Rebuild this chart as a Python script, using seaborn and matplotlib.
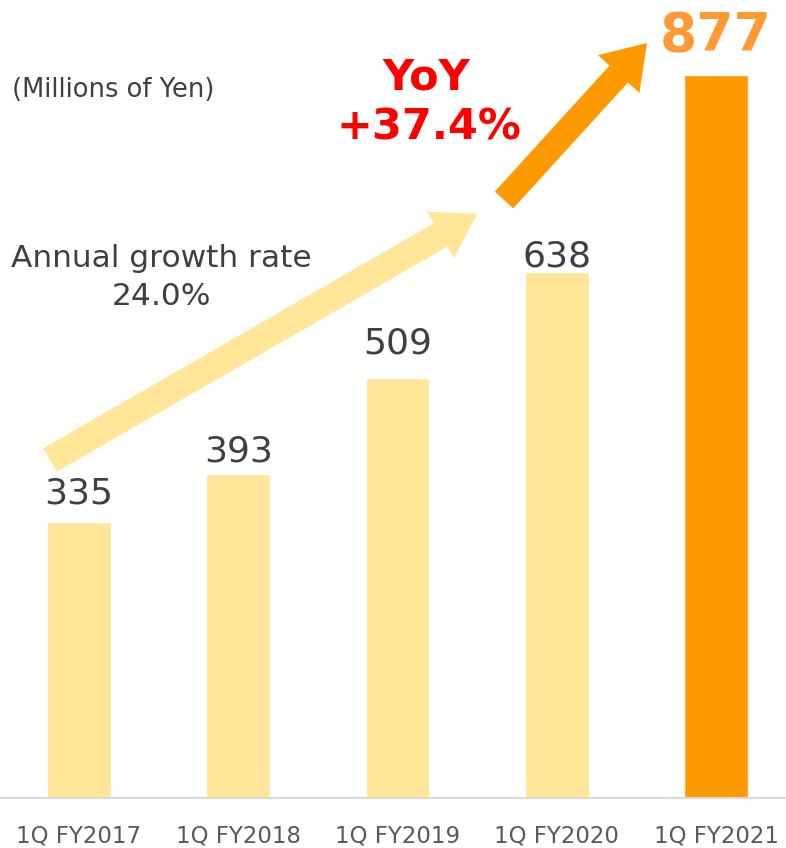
import matplotlib
matplotlib.use("Agg")
import matplotlib.pyplot as plt
import seaborn as sns
import pandas as pd
import numpy as np
from matplotlib.patches import Polygon
from matplotlib.transforms import Affine2D

sns.set_theme(style="white")
plt.rcParams['font.family'] = ['DejaVu Sans']

categories = ["1Q FY2017", "1Q FY2018", "1Q FY2019", "1Q FY2020", "1Q FY2021"]
values = [335, 393, 509, 638, 877]
bar_colors = ["#FFE699", "#FFE699", "#FFE699", "#FFE699", "#FF9900"]
unit_label = "(Millions of Yen)"
growth_lines = ["Annual growth rate", "24.0%"]
yoy_lines = ["YoY", "+37.4%"]

df = pd.DataFrame({"period": categories, "value": values})

W, H = 786, 848
PX_PER_UNIT = 0.8244
fig = plt.figure(figsize=(W / 100, H / 100), dpi=100)
ax = fig.add_axes([0, 1 - 798 / H, 1, 798 / H])

sns.barplot(data=df, x="period", y="value", hue="period", palette=bar_colors,
            width=0.40, legend=False, ax=ax, saturation=1)

ax.set_xlim(-79 / 159.3, 4 + 70 / 159.3)
ax.set_ylim(0, 798 / PX_PER_UNIT)
ax.set_xlabel("")
ax.set_ylabel("")
ax.set_yticks([])
for s in ["top", "left", "right"]:
    ax.spines[s].set_visible(False)
ax.spines["bottom"].set_color("#D9D9D9")
ax.spines["bottom"].set_linewidth(1.5)
ax.tick_params(axis="x", length=0, pad=19, labelsize=16.5, labelcolor="#595959")

# label gaps above bars (pixels)
label_gaps = [18, 13, 25, 6]
for i, v in enumerate(values[:-1]):
    ax.text(i, v + label_gaps[i] / PX_PER_UNIT, str(v), ha="center", va="baseline",
            fontsize=26, color="#404040")
ax.text(4, values[-1] + 24 / PX_PER_UNIT, str(values[-1]), ha="center", va="baseline",
        fontsize=38.5, color="#FF9933", fontweight="bold")

# pixel transform (origin top-left)
pix = Affine2D().scale(1, -1).translate(0, H)

def arrow_poly(tail, tip, shaft_w, head_w, head_l):
    tail = np.array(tail, float); tip = np.array(tip, float)
    d = tip - tail
    u = d / np.hypot(*d)
    n = np.array([-u[1], u[0]])
    base = tip - u * head_l
    pts = [tail + n * shaft_w / 2, base + n * shaft_w / 2, base + n * head_w / 2, tip,
           base - n * head_w / 2, base - n * shaft_w / 2, tail - n * shaft_w / 2]
    return np.array(pts)

fig.patches.append(Polygon(arrow_poly((50, 460), (477, 214), 27, 54, 42),
                           closed=True, facecolor="#FFE699", edgecolor="none",
                           transform=pix, figure=fig))
fig.patches.append(Polygon(arrow_poly((504, 200), (647, 43), 25, 56, 42),
                           closed=True, facecolor="#FF9900", edgecolor="none",
                           transform=pix, figure=fig))

def ptext(x, y, s, **kw):
    fig.text(x / W, 1 - y / H, s, va="baseline", **kw)

ptext(12, 97, unit_label, ha="left", fontsize=18.5, color="#404040")
ptext(161, 267, growth_lines[0], ha="center", fontsize=22.5, color="#404040")
ptext(162, 305, growth_lines[1], ha="center", fontsize=22.5, color="#404040")
ptext(426, 90, yoy_lines[0], ha="center", fontsize=31, color="#FF0000", fontweight="bold")
ptext(429, 140, yoy_lines[1], ha="center", fontsize=31, color="#FF0000", fontweight="bold")

fig.savefig("out.png", dpi=100)
